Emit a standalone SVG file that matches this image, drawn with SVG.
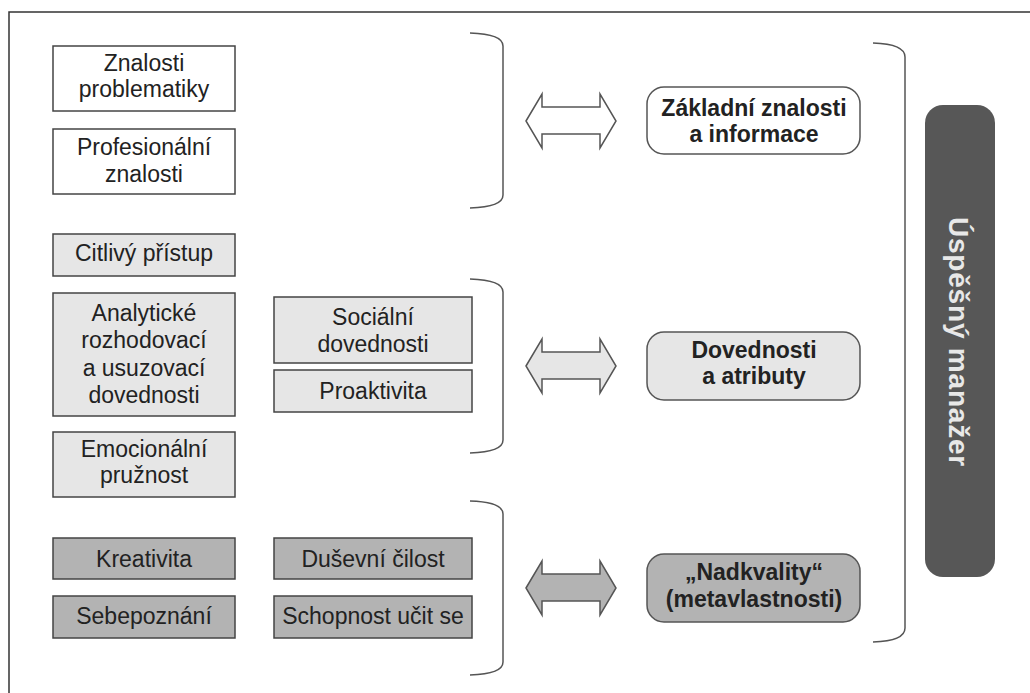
<svg xmlns="http://www.w3.org/2000/svg" xmlns:xlink="http://www.w3.org/1999/xlink" width="1030" height="693" viewBox="0 0 1030 693">
<style>
  .box { stroke: #444; stroke-width: 1.5; }
  .w { fill: #ffffff; }
  .l { fill: #e6e6e6; }
  .d { fill: #b3b3b3; }
  .t { font-family: "Liberation Sans", Arial, sans-serif; font-size: 23px; fill: #222; text-anchor: middle; }
  .tb { font-family: "Liberation Sans", Arial, sans-serif; font-size: 23px; font-weight: bold; fill: #222; text-anchor: middle; }
  .rbox { stroke: #555; stroke-width: 1.5; }
  .brace { fill: none; stroke: #555; stroke-width: 1.5; }
  .arr { stroke: #555; stroke-width: 1.5; stroke-linejoin: miter; }
</style>
<defs>
  <path id="dblarrow" d="M526,0 L542,-27 L542,-14 L600,-14 L600,-27 L616,0 L600,27 L600,13 L542,13 L542,27 Z"/>
</defs>
<rect width="1030" height="693" fill="#ffffff"/>
<path d="M9,693 V12 H1030" fill="none" stroke="#333" stroke-width="1.5"/>

<g id="n-znalosti-problematiky">
  <rect class="box w" x="53" y="46" width="182" height="65"/>
  <text class="t" x="144" y="71">Znalosti</text>
  <text class="t" x="144" y="97">problematiky</text>
</g>
<g id="n-profesionalni-znalosti">
  <rect class="box w" x="53" y="129" width="182" height="65"/>
  <text class="t" x="144" y="155">Profesionální</text>
  <text class="t" x="144" y="182">znalosti</text>
</g>
<g id="n-citlivy-pristup">
  <rect class="box l" x="53" y="234" width="182" height="42"/>
  <text class="t" x="144" y="261">Citlivý přístup</text>
</g>
<g id="n-analyticke">
  <rect class="box l" x="53" y="293" width="182" height="123"/>
  <text class="t" x="144" y="321">Analytické</text>
  <text class="t" x="144" y="348">rozhodovací</text>
  <text class="t" x="144" y="376">a usuzovací</text>
  <text class="t" x="144" y="403">dovednosti</text>
</g>
<g id="n-emocionalni-pruznost">
  <rect class="box l" x="53" y="432" width="182" height="65"/>
  <text class="t" x="144" y="457">Emocionální</text>
  <text class="t" x="144" y="483">pružnost</text>
</g>
<g id="n-socialni-dovednosti">
  <rect class="box l" x="274" y="297" width="198" height="66"/>
  <text class="t" x="373" y="325">Sociální</text>
  <text class="t" x="373" y="352">dovednosti</text>
</g>
<g id="n-proaktivita">
  <rect class="box l" x="274" y="370" width="198" height="42"/>
  <text class="t" x="373" y="399">Proaktivita</text>
</g>
<g id="n-kreativita">
  <rect class="box d" x="53" y="538" width="182" height="41"/>
  <text class="t" x="144" y="567">Kreativita</text>
</g>
<g id="n-sebepoznani">
  <rect class="box d" x="53" y="596" width="182" height="42"/>
  <text class="t" x="144" y="624">Sebepoznání</text>
</g>
<g id="n-dusevni-cilost">
  <rect class="box d" x="274" y="538" width="198" height="41"/>
  <text class="t" x="373" y="567">Duševní čilost</text>
</g>
<g id="n-schopnost-ucit-se">
  <rect class="box d" x="274" y="596" width="198" height="42"/>
  <text class="t" x="373" y="624">Schopnost učit se</text>
</g>

<g id="n-zakladni-znalosti">
  <rect class="rbox w" x="647" y="87" width="213" height="67" rx="17"/>
  <text class="tb" x="754" y="116">Základní znalosti</text>
  <text class="tb" x="754" y="142">a informace</text>
</g>
<g id="n-dovednosti-atributy">
  <rect class="rbox l" x="647" y="332" width="213" height="68" rx="17"/>
  <text class="tb" x="754" y="358">Dovednosti</text>
  <text class="tb" x="754" y="384">a atributy</text>
</g>
<g id="n-nadkvality">
  <rect class="rbox d" x="647" y="554" width="213" height="68" rx="17"/>
  <text class="tb" x="754" y="580">„Nadkvality“</text>
  <text class="tb" x="754" y="607">(metavlastnosti)</text>
</g>

<g id="n-uspesny-manazer">
  <rect x="925" y="105" width="70" height="472" rx="18" fill="#575757"/>
  <text transform="translate(949,342) rotate(90)" font-family="Liberation Sans, Arial, sans-serif" font-size="28" font-weight="bold" fill="#e8e8e8" text-anchor="middle" letter-spacing="0.8">Úspěšný manažer</text>
</g>

<g id="connectors">
  <path class="brace" d="M470,33 Q503,34 503,46 V195 Q503,207 470,208"/>
  <path class="brace" d="M470,279 Q503,280 503,292 V440 Q503,452 470,453"/>
  <path class="brace" d="M470,501 Q503,502 503,514 V662 Q503,674 470,675"/>
  <path class="brace" d="M873,43 Q905,44 905,57 V628 Q905,641 873,642"/>
  <use xlink:href="#dblarrow" class="arr w" transform="translate(0,121)"/>
  <use xlink:href="#dblarrow" class="arr l" transform="translate(0,366)"/>
  <use xlink:href="#dblarrow" class="arr d" transform="translate(0,588)"/>
</g>
</svg>
